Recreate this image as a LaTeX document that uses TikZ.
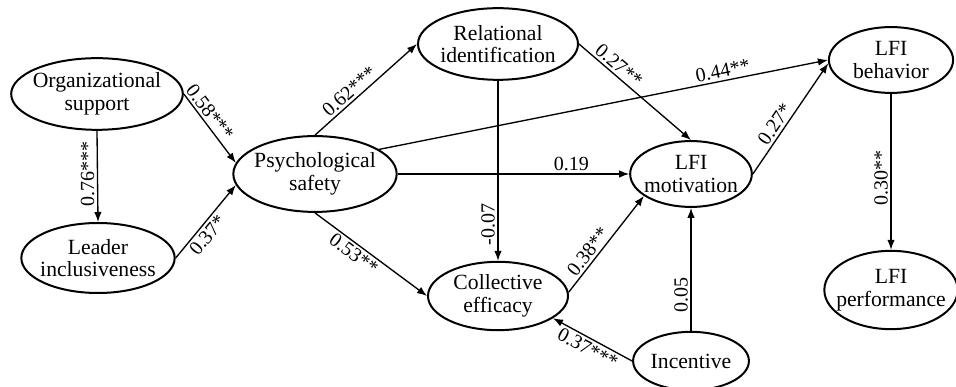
\documentclass[tikz,border=0pt]{standalone}
\usepackage{fontspec}
\setmainfont{LiberationSerif}[Extension=.ttf,UprightFont=*-Regular,BoldFont=*-Bold,ItalicFont=*-Italic]
\usetikzlibrary{shapes.geometric,arrows.meta,calc}

\begin{document}
\begin{tikzpicture}[x=0.6pt,y=-0.6pt,
    construct/.style={draw,ellipse,line width=1.2pt,inner xsep=-12pt,inner ysep=0pt,
      align=center,font=\rmfamily\fontsize{13}{13.5}\selectfont},
    effect/.style={-{Latex[length=6pt,width=4.5pt]},line width=0.8pt},
    coef/.style={font=\rmfamily\fontsize{12}{12}\selectfont,inner sep=1.5pt}
  ]
\useasboundingbox (0,0) rectangle (956,387);

\node[construct,minimum width=103pt,minimum height=43pt] (org) at (97,94) {Organizational\\support};
\node[construct,minimum width=92pt,minimum height=42pt] (leader) at (98,258) {Leader\\inclusiveness};
\node[construct,minimum width=98pt,minimum height=45.5pt] (psych) at (315,174) {Psychological\\safety};
\node[construct,minimum width=96pt,minimum height=43pt] (rel) at (498,44) {Relational\\identification};
\node[construct,minimum width=84pt,minimum height=41pt] (coll) at (498,296) {Collective\\efficacy};
\node[construct,minimum width=73pt,minimum height=39.5pt] (mot) at (691,174) {LFI\\motivation};
\node[construct,minimum width=69.5pt,minimum height=35pt] (inc) at (691,361) {Incentive};
\node[construct,minimum width=74.5pt,minimum height=39.5pt] (beh) at (891,60) {LFI\\behavior};
\node[construct,minimum width=80pt,minimum height=47pt] (perf) at (891,290) {LFI\\performance};

\draw[effect] (org.south) -- (leader.north) node[coef,pos=0.47,rotate=90,anchor=south] {0.76***};
\draw[effect] (org.east) -- (psych.172) node[coef,pos=0.35,sloped,above] {0.58***};
\draw[effect] (leader.east) -- (psych.188) node[coef,pos=0.4,sloped,below] {0.37*};
\draw[effect] (psych.north) -- (rel.west) node[coef,pos=0.4,sloped,above] {0.62***};
\draw[effect] (psych.21) -- (beh.west) node[coef,pos=0.77,sloped,above] {0.44**};
\draw[effect] (psych.east) -- (mot.west) node[coef,pos=0.75,above] {0.19};
\draw[effect] (psych.south) -- (coll.west) node[coef,pos=0.4,sloped,below] {0.53**};
\draw[effect] (rel.south) -- (coll.north) node[coef,pos=0.8,rotate=90,anchor=south] {-0.07};
\draw[effect] (rel.east) -- (mot.north) node[coef,pos=0.3,sloped,above] {0.27**};
\draw[effect] (coll.3) -- (mot.205) node[coef,pos=0.36,sloped,above] {0.38**};
\draw[effect] (inc.west) -- (coll.-22) node[coef,pos=0.5,sloped,below] {0.37***};
\draw[effect] (inc.north) -- (mot.south) node[coef,pos=0.29,rotate=90,anchor=south] {0.05};
\draw[effect] (mot.east) -- (beh.183) node[coef,pos=0.4,sloped,above] {0.27*};
\draw[effect] (beh.south) -- (perf.north) node[coef,pos=0.54,rotate=90,anchor=south] {0.30**};

\end{tikzpicture}
\end{document}
